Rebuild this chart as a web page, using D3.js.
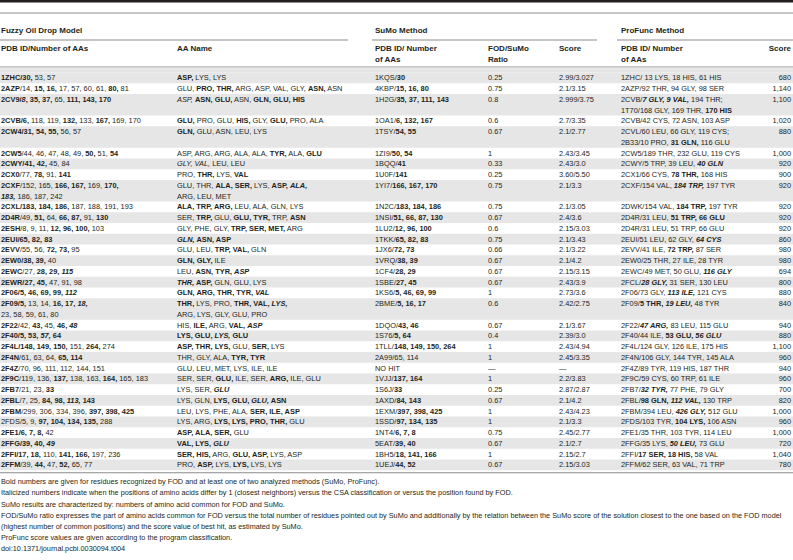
<!DOCTYPE html>
<html><head><meta charset="utf-8">
<script src="https://cdn.jsdelivr.net/npm/d3@7"></script>
<style>
body{margin:0;background:#fff}
svg{display:block}
text{font-family:"Liberation Sans",Arial,sans-serif;white-space:pre}
</style>
</head><body>
<svg id="c" width="793" height="560"></svg>
<script>
// ---- DATA ----
const groupHeaders = ["Fuzzy Oil Drop Model", "SuMo Method", "ProFunc Method"];
const subHeaders = [
  ["PDB ID/Number of AAs"], ["AA Name"], ["PDB ID/ Number", "of AAs"],
  ["FOD/SuMo", "Ratio"], ["Score"], ["PDB ID/ Number", "of AAs"], ["Score"]
];
const fodIds = [
  "<b>1ZHC/30,</b> 53, 57",
  "<b>2AZP</b>/14, <b>15, 16,</b> 17, 57, 60, 61, <b>80,</b> 81",
  "<b>2CV9/<i>8</i>, 35, 37,</b> 65, <b>111, 143, 170</b>",
  "<b>2CVB/6,</b> 118, 119, <b>132,</b> 133, <b>167,</b> 169, 170",
  "<b>2CW4/31, 54, 55,</b> 56, 57",
  "<b>2CW5</b>/44, 46, 47, 48, 49, <b>50,</b> 51, <b>54</b>",
  "<b>2CWY/41, 42,</b> 45, 84",
  "<b>2CX0</b>/77, <b>78,</b> 91, <b>141</b>",
  ["<b>2CXF</b>/152, 165, <b>166, 167,</b> 169, <b>170,</b>", "<b><i>183,</i></b> 186, 187, 242"],
  "<b>2CXL/183, 184, 186,</b> 187, 188, 191, 193",
  "<b>2D4R</b>/49, <b>51,</b> 64, <b>66, 87,</b> 91, <b>130</b>",
  "<b>2ESH</b>/8, 9, 11, <b>12, 96, 100,</b> 103",
  "<b>2EUI/65, 82, 83</b>",
  "<b>2EVV</b>/55, 56, <b>72, 73,</b> 95",
  "<b>2EW0/38, 39,</b> 40",
  "<b>2EWC</b>/27, <b>28, 29, <i>115</i></b>",
  "<b>2EWR/27, 45,</b> 47, 91, 98",
  "<b>2F06/5, 46, 69, 99, <i>112</i></b>",
  ["<b>2F09/5,</b> 13, 14, <b>16, 17, <i>18,</i></b>", "23, 58, 59, 61, 80"],
  "<b>2F22</b>/42, <b>43,</b> 45, <b>46, <i>48</i></b>",
  "<b>2F40/5, 53, <i>57,</i> 64</b>",
  "<b>2F4L/148, 149, 150,</b> 151, <b>264,</b> 274",
  "<b>2F4N</b>/61, 63, 64, <b>65, 114</b>",
  "<b>2F4Z</b>/70, 96, 111, 112, 144, 151",
  "<b>2F9C</b>/119, 136, <b>137,</b> 138, 163, <b>164,</b> 165, 183",
  "<b>2FB7</b>/21, 23, <b>33</b>",
  "<b>2FBL</b>/7, 25, <b>84, 98, <i>113,</i> 143</b>",
  "<b>2FBM</b>/299, 306, 334, 396, <b>397, 398, 425</b>",
  "2FDS/5, 9, <b>97, 104, 134, 135,</b> 288",
  "<b>2FE1/6, 7, 8,</b> 42",
  "<b>2FFG/39, 40, <i>49</i></b>",
  "<b>2FFI/17, 18,</b> 110, <b>141, 166,</b> 197, 236",
  "<b>2FFM</b>/39, <b>44,</b> 47, <b>52,</b> 65, 77"
];
const aaNames = [
  "<b>ASP,</b> LYS, LYS",
  "GLU, <b>PRO, THR,</b> ARG, ASP, VAL, GLY, <b>ASN,</b> ASN",
  "<i>ASP,</i> <b>ASN, GLU,</b> ASN, <b>GLN, GLU, HIS</b>",
  "<b>GLU,</b> PRO, GLU, <b>HIS,</b> GLY, <b>GLU,</b> PRO, ALA",
  "<b>GLN,</b> GLU, ASN, LEU, LYS",
  "ASP, ARG, ARG, ALA, ALA, <b>TYR,</b> ALA, <b>GLU</b>",
  "<i>GLY, VAL,</i> LEU, LEU",
  "PRO, <b>THR,</b> LYS, <b>VAL</b>",
  ["GLU, THR, <b>ALA, SER,</b> LYS, <b>ASP, <i>ALA,</i></b>", "ARG, LEU, MET"],
  "<b>ALA, TRP, ARG,</b> LEU, ALA, GLN, LYS",
  "SER, <b>TRP,</b> GLU, <b>GLU, TYR,</b> TRP, <b>ASN</b>",
  "GLY, PHE, GLY, <b>TRP, SER, MET,</b> ARG",
  "<b><i>GLN,</i> ASN, ASP</b>",
  "GLU, LEU, <b>TRP, VAL,</b> GLN",
  "<b>GLN, GLY,</b> ILE",
  "LEU, <b>ASN, TYR, <i>ASP</i></b>",
  "<b><i>THR,</i> ASP,</b> GLN, GLU, LYS",
  "<b>GLN, ARG, THR, TYR, <i>VAL</i></b>",
  ["<b>THR,</b> LYS, PRO, <b>THR, VAL, <i>LYS,</i></b>", "ARG, LYS, GLY, GLU, PRO"],
  "HIS, <b>ILE,</b> ARG, <b>VAL, <i>ASP</i></b>",
  "<b>LYS, GLU, <i>LYS,</i> GLU</b>",
  "<b>ASP, THR, LYS,</b> GLU, <b>SER,</b> LYS",
  "THR, GLY, ALA, <b>TYR, TYR</b>",
  "GLU, LEU, MET, LYS, ILE, ILE",
  "SER, SER, <b>GLU,</b> ILE, SER, <b>ARG,</b> ILE, GLU",
  "LYS, SER, <b><i>GLU</i></b>",
  "LYS, GLN, <b>LYS, GLU, <i>GLU,</i> ASN</b>",
  "LEU, LYS, PHE, ALA, <b>SER, ILE, ASP</b>",
  "LYS, ARG, <b>LYS, LYS, PRO, THR,</b> GLU",
  "<b>ASP, ALA, SER,</b> GLU",
  "<b>VAL, LYS, <i>GLU</i></b>",
  "<b>SER, HIS,</b> ARG, <b>GLU, ASP,</b> LYS, ASP",
  "PRO, <b>ASP,</b> LYS, <b>LYS,</b> LYS, LYS"
];
const sumoIds = [
  "1KQS/<b>30</b>", "4KBP/<b>15, 16, 80</b>", "1H2G/<b>35, 37, 111, 143</b>",
  "1OA1/<b>6, 132, 167</b>", "1TSY/<b>54, 55</b>", "1ZI9/<b>50, 54</b>",
  "1BQQ/<b>41</b>", "1U0F/<b>141</b>", "1YI7/<b>166, 167, 170</b>",
  "1N2C/<b>183, 184, 186</b>", "1NSI/<b>51, 66, 87, 130</b>", "1LU2/<b>12, 96, 100</b>",
  "1TKK/<b>65, 82, 83</b>", "1JX6/<b>72, 73</b>", "1VRQ/<b>38, 39</b>",
  "1CF4/<b>28, 29</b>", "1SBE/<b>27, 45</b>", "1KS6/<b>5, 46, 69, 99</b>",
  "2BME/<b>5, 16, 17</b>", "1DQO/<b>43, 46</b>", "1S76/<b>5, 64</b>",
  "1TLL/<b>148, 149, 150, 264</b>", "2A99/65, 114", "NO HIT",
  "1VJJ/<b>137, 164</b>", "1S6J/<b>33</b>", "1AXD/<b>84, 143</b>",
  "1EXM/<b>397, 398, 425</b>", "1SSD/<b>97, 134, 135</b>", "1NT4/<b>6, 7, 8</b>",
  "5EAT/<b>39, 40</b>", "1BH5/<b>18, 141, 166</b>", "1UEJ/<b>44, 52</b>"
];
const fodSumoRatio = [
  "0.25", "0.75", "0.8", "0.6", "0.67", "1", "0.33", "0.25", "0.75", "0.75", "0.67",
  "0.6", "0.75", "0.66", "0.67", "0.67", "0.67", "1", "0.6", "0.67", "0.4", "1", "1",
  "\u2014", "1", "0.25", "0.67", "1", "1", "0.75", "0.67", "1", "0.67"
];
const sumoScores = [
  "2.99/3.027", "2.1/3.15", "2.999/3.75", "2.7/3.35", "2.1/2.77", "2.43/3.45",
  "2.43/3.0", "3.60/5.50", "2.1/3.3", "2.1/3.05", "2.4/3.6", "2.15/3.03",
  "2.1/3.43", "2.1/3.22", "2.1/4.2", "2.15/3.15", "2.43/3.9", "2.73/3.6",
  "2.42/2.75", "2.1/3.67", "2.39/3.0", "2.43/4.94", "2.45/3.35", "\u2014",
  "2.2/3.83", "2.87/2.87", "2.1/4.2", "2.43/4.23", "2.1/3.3", "2.45/2.77",
  "2.1/2.7", "2.15/2.7", "2.15/3.03"
];
const profuncIds = [
  "1ZHC/ 13 LYS, 18 HIS, 61 HIS",
  "2AZP/92 THR, 94 GLY, 98 SER",
  ["2CVB/<b><i>7 GLY, 9 VAL,</i></b> 194 THR;", "1T70/168 GLY, 169 THR, <b>170 HIS</b>"],
  "2CVB/42 CYS, 72 ASN, 103 ASP",
  ["2CVL/60 LEU, 66 GLY, 119 CYS;", "2B33/10 PRO, <b>31 GLN,</b> 116 GLU"],
  "2CW5/189 THR, 232 GLU, 119 CYS",
  "2CWY/5 TRP, 39 LEU, <b><i>40 GLN</i></b>",
  "2CX1/66 CYS, <b>78 THR,</b> 168 HIS",
  "2CXF/154 VAL, <b><i>184 TRP,</i></b> 197 TYR",
  "2DWK/154 VAL, <b>184 TRP,</b> 197 TYR",
  "2D4R/31 LEU, <b>51 TRP, 66 GLU</b>",
  "2D4R/31 LEU, 51 TRP, 66 GLU",
  "2EUI/51 LEU, 62 GLY, <b><i>64 CYS</i></b>",
  "2EVV/41 ILE, <b>72 TRP,</b> 87 SER",
  "2EW0/25 THR, 27 ILE, 28 TYR",
  "2EWC/49 MET, 50 GLU, <b><i>116 GLY</i></b>",
  "2FCL/<b><i>28 GLY,</i></b> 31 SER, 130 LEU",
  "2F06/73 GLY, <b><i>113 ILE,</i></b> 121 CYS",
  "2F09/<b>5 THR, <i>19 LEU,</i></b> 48 TYR",
  "2F22/<b><i>47 ARG,</i></b> 83 LEU, 115 GLU",
  "2F40/44 ILE, <b>53 GLU, <i>56 GLU</i></b>",
  "2F4L/124 GLY, 126 ILE, 175 HIS",
  "2F4N/106 GLY, 144 TYR, 145 ALA",
  "2F4Z/89 TYR, 119 HIS, 187 THR",
  "2F9C/59 CYS, 60 TRP, 61 ILE",
  "2FB7/<b><i>32 TYR,</i></b> 77 PHE, 79 GLY",
  "2FBL/<b>98 GLN, <i>112 VAL,</i></b> 130 TRP",
  "2FBM/394 LEU, <b><i>426 GLY,</i></b> 512 GLU",
  "2FDS/103 TYR, <b>104 LYS,</b> 106 ASN",
  "2FE1/35 THR, 103 TYR, 114 LEU",
  "2FFG/35 LYS, <b><i>50 LEU,</i></b> 73 GLU",
  "2FFI/<b>17 SER, 18 HIS,</b> 58 VAL",
  "2FFM/62 SER, 63 VAL, 71 TRP"
];
const profuncScores = [
  "680", "1,140", "1,100", "1,020", "880", "1,000", "920", "900", "920", "920", "920",
  "920", "860", "980", "980", "694", "800", "880", "840", "940", "880", "1,100", "960",
  "940", "960", "700", "820", "1,000", "960", "1,000", "720", "1,040", "780"
];
const footnotes = [
  "Bold numbers are given for residues recognized by FOD and at least one of two analyzed methods (SuMo, ProFunc).",
  "Italicized numbers indicate when the positions of amino acids differ by 1 (closest neighbors) versus the CSA classification or versus the position found by FOD.",
  "SuMo results are characterized by: numbers of amino acid common for FOD and SuMo.",
  "FOD/SuMo ratio expresses the part of amino acids common for FOD versus the total number of residues pointed out by SuMo and additionally by the relation between the SuMo score of the solution closest to the one based on the FOD model",
  "(highest number of common positions) and the score value of best hit, as estimated by SuMo.",
  "ProFunc score values are given according to the program classification.",
  "doi:10.1371/journal.pcbi.0030094.t004"
];

// ---- LAYOUT ----
const W = 793, FS = 7.4;
const columns = [fodIds, aaNames, sumoIds, fodSumoRatio, sumoScores, profuncIds, profuncScores];
const colKeys = d3.range(columns.length);
const xCol = d3.scaleOrdinal().domain(colKeys).range([1, 177, 375, 488, 559, 621, 791]);
const anchorCol = d3.scaleOrdinal().domain(colKeys).range(["start","start","start","start","start","start","end"]);

const svg = d3.select("#c");
const asLines = v => Array.isArray(v) ? v : [v];

function parse(s) {
  const parts = s.split(/(<\/?[bi]>)/);
  let b = false, it = false; const out = [];
  for (const p of parts) {
    if (p === "<b>") b = true; else if (p === "</b>") b = false;
    else if (p === "<i>") it = true; else if (p === "</i>") it = false;
    else if (p.length) out.push({t: p, b, i: it});
  }
  return out;
}
function rich(g, str, x, y, anchor, size, fill) {
  const t = g.append("text").attr("x", x).attr("y", y).attr("text-anchor", anchor)
    .attr("font-size", size).attr("fill", fill || "#231f20");
  t.selectAll("tspan").data(parse(str)).join("tspan")
    .attr("font-weight", d => d.b ? "bold" : null)
    .attr("font-style", d => d.i ? "italic" : null)
    .text(d => d.t);
  return t;
}

// rows
const nRows = fodIds.length;
const rowLines = d3.range(nRows).map(r => d3.max(columns, c => asLines(c[r]).length));
const startLine = d3.cumsum([0].concat(rowLines.slice(0, -1)));
const totalLines = d3.sum(rowLines);
const top0 = 72.5, lineH = 10.75;
const yLine = d3.scaleLinear().domain([0, totalLines]).range([top0, top0 + totalLines * lineH]);

// header lines
svg.append("rect").attr("x", 0).attr("y", 0).attr("width", W).attr("height", 2.5).attr("fill", "#231f20");
svg.append("rect").attr("x", 0).attr("y", 12.5).attr("width", W).attr("height", 1).attr("fill", "#8c8c8c");

// group headers
const gx = [1, 375, 621];
const gSpan = [[0, 348], [372, 597], [617, W]];
groupHeaders.forEach((h, k) => {
  svg.append("text").attr("x", gx[k]).attr("y", 33).attr("font-size", 8).attr("font-weight", "bold")
    .attr("fill", "#231f20").text(h);
  svg.append("rect").attr("x", gSpan[k][0]).attr("y", 39.5).attr("width", gSpan[k][1] - gSpan[k][0])
    .attr("height", 1).attr("fill", "#8c8c8c");
});
subHeaders.forEach((lines, k) => {
  lines.forEach((l, j) => {
    svg.append("text").attr("x", xCol(k)).attr("y", 51 + j * 11).attr("text-anchor", anchorCol(k))
      .attr("font-size", 8).attr("font-weight", "bold").attr("fill", "#231f20").text(l);
  });
});
svg.append("rect").attr("x", 0).attr("y", 66.5).attr("width", W).attr("height", 1).attr("fill", "#8c8c8c");

// shaded bands
svg.append("rect").attr("x", 0).attr("y", 67.5).attr("width", W).attr("height", top0 - 67.5).attr("fill", "#e6e6e6");
const bands = svg.append("g");
d3.range(nRows).forEach(r => {
  if (r % 2 === 0) {
    bands.append("rect").attr("x", 0).attr("y", yLine(startLine[r]))
      .attr("width", W).attr("height", yLine(startLine[r] + rowLines[r]) - yLine(startLine[r]))
      .attr("fill", "#e6e6e6");
  }
});

// cells
const body = svg.append("g");
columns.forEach((col, k) => {
  col.forEach((v, r) => {
    asLines(v).forEach((l, j) => {
      rich(body, l, xCol(k), yLine(startLine[r] + j) + 7.9, anchorCol(k), FS);
    });
  });
});

// bottom rule
const yEnd = yLine(totalLines);
svg.append("rect").attr("x", 0).attr("y", yEnd + 2).attr("width", W).attr("height", 1).attr("fill", "#8c8c8c");

// footnotes
footnotes.forEach((f, k) => {
  svg.append("text").attr("x", 1).attr("y", yEnd + 14 + k * 11.2).attr("font-size", 7.3)
    .attr("fill", "#231f20").text(f);
});
</script>
</body></html>
